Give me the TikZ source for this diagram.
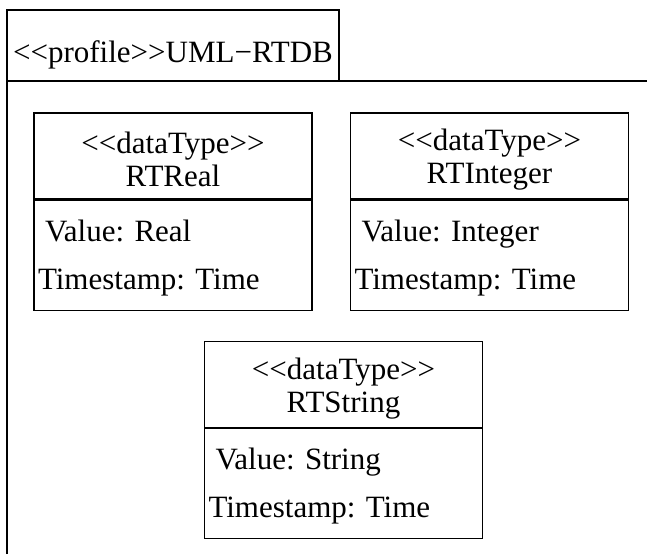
\documentclass[tikz,border=0pt]{standalone}
\usepackage{fontspec}
\setmainfont{Liberation Serif}
\frenchspacing
\usetikzlibrary{positioning}
\tikzset{
  headbox/.style={draw, line width=0.6pt, minimum width=139pt, minimum height=43pt,
    inner sep=0pt, align=center, font=\fontsize{15.5}{16.5}\selectfont},
  bodybox/.style={draw, line width=0.6pt, minimum height=55pt, text width=135pt,
    inner xsep=2pt, inner ysep=0pt, align=left, font=\fontsize{15.5}{24}\selectfont}
}
\begin{document}
\begin{tikzpicture}[x=0.5pt, y=-0.5pt]
  \useasboundingbox (0,0) rectangle (647,554);
  % package frame with its tab
  \draw[line width=0.6pt] (7,554) -- (7,10) -- (339,10) -- (339,81);
  \draw[line width=0.6pt] (7,81) -- (647,81);
  \node[anchor=base, inner sep=0pt, font=\fontsize{15.5}{16}\selectfont] (title) at (173,62)
    {{<}{<}profile{>}{>}UML−RTDB};
  % the three data types
  \foreach \name/\cx/\cy/\type in {real/173/156/Real, int/489.5/156/Integer, str/343.5/384.5/String}
  {
    \node[headbox] (\name head) at (\cx,\cy) {\rule{0pt}{14.5pt}{<}{<}dataType{>}{>}\\RT\type};
    \node[bodybox, below=0pt of \name head] (\name body)
      {\rule{0pt}{13.5pt}\hspace{3.5pt}Value: \type\\Timestamp: Time};
  }
\end{tikzpicture}
\end{document}
